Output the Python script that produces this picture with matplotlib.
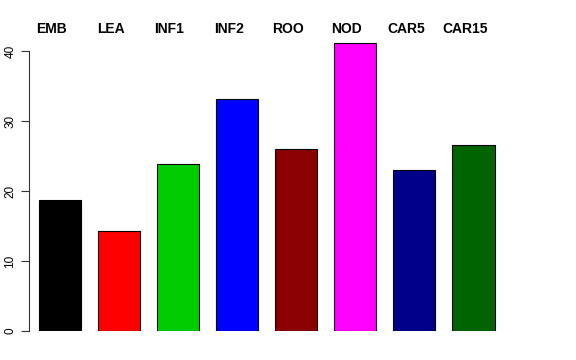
import matplotlib
matplotlib.use("Agg")
import matplotlib.pyplot as plt

labels = ["EMB", "LEA", "INF1", "INF2", "ROO", "NOD", "CAR5", "CAR15"]
values = [18.7, 14.3, 23.9, 33.1, 26.0, 41.2, 23.0, 26.6]
colors = ["#000000", "#FF0000", "#00CD00", "#0000FF",
          "#8B0000", "#FF00FF", "#00008B", "#006400"]

plt.rcParams["font.family"] = ["Liberation Sans", "DejaVu Sans"]

W, H = 576, 360
fig = plt.figure(figsize=(W / 100, H / 100), dpi=100)
# axes placed in pixel terms: left spine at x=29, y=0 at row 331, 7 px per unit
left, bottom_px, top_px = 29, 331, 37
ax = fig.add_axes([left / W, 1 - bottom_px / H, (W - left) / W, (bottom_px - top_px) / H])

xs = [0.5 + 1.4 * i for i in range(len(values))]
ax.bar(xs, values, width=1.0, color=colors, edgecolor="black", linewidth=0.8)

ax.set_xlim(-0.23, 12.73)
ax.set_ylim(0, 42)

for x, lab in zip(xs, labels):
    ax.text(x - 0.2, 43.1, lab, ha="center", va="center", fontsize=10,
            fontweight="bold", clip_on=False)

for s in ["top", "right", "bottom"]:
    ax.spines[s].set_visible(False)
ax.spines["left"].set_bounds(0, 40)
ax.spines["left"].set_color("#333333")
ax.set_xticks([])
ax.set_yticks([0, 10, 20, 30, 40])
ax.set_yticklabels(["0", "10", "20", "30", "40"], rotation=90, va="center")
ax.tick_params(axis="y", length=6, pad=3, labelsize=8.5, color="#333333")

fig.savefig("out.png", dpi=100)
